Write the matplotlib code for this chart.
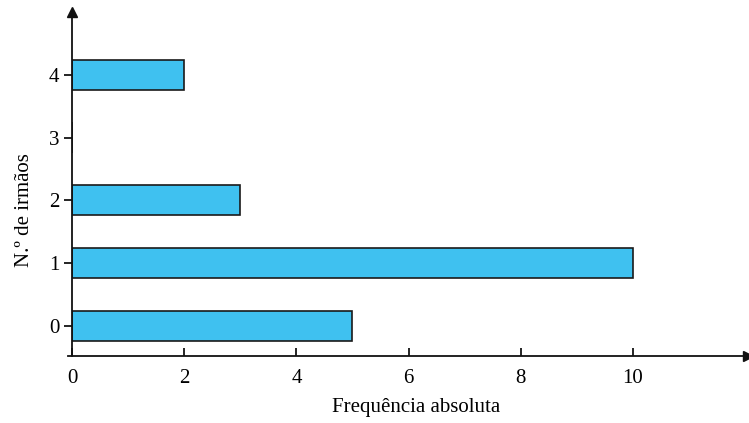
import matplotlib.pyplot as plt

irmaos = [0, 1, 2, 3, 4]
frequencia = [5, 10, 3, 0, 2]
xticks = [0, 2, 4, 6, 8, 10]

plt.rcParams['font.family'] = ['Liberation Serif', 'DejaVu Serif']

fig = plt.figure(figsize=(7.49, 4.23), dpi=100)
ax = fig.add_axes([72/749, 1-356/423, (748-72)/749, (356-12)/423])

ax.barh(irmaos, frequencia, height=0.48, color='#3fc1f0', edgecolor='#1a1a1a', linewidth=1.2, zorder=2)

ax.set_xlim(0, 12.05)
ax.set_ylim(-0.48, 5.0)
for s in ['top', 'right']:
    ax.spines[s].set_visible(False)
for s in ['left', 'bottom']:
    ax.spines[s].set_linewidth(1.3)
    ax.spines[s].set_color('#111111')
ax.spines['bottom'].set_bounds(-0.08, 12.05)

ax.plot(1, 0, '>', color='#111111', markersize=7, transform=ax.transAxes, clip_on=False)
ax.plot(0, 1, '^', color='#111111', markersize=7, transform=ax.transAxes, clip_on=False)

ax.set_xticks(xticks)
ax.set_yticks(irmaos)
ax.tick_params(axis='x', direction='in', length=6, width=1.2, labelsize=15, pad=9)
ax.tick_params(axis='y', direction='out', length=6, width=1.2, labelsize=15, pad=3)

ax.set_xlabel('Frequência absoluta', fontsize=15)
ax.set_ylabel('N.º de irmãos', fontsize=15)
ax.xaxis.set_label_coords((416 - 72) / 676, -(398 - 356) / 344)
ax.yaxis.set_label_coords(-(72 - 34) / 676, (356 - 210) / 344)

fig.savefig('out.png', dpi=100)
